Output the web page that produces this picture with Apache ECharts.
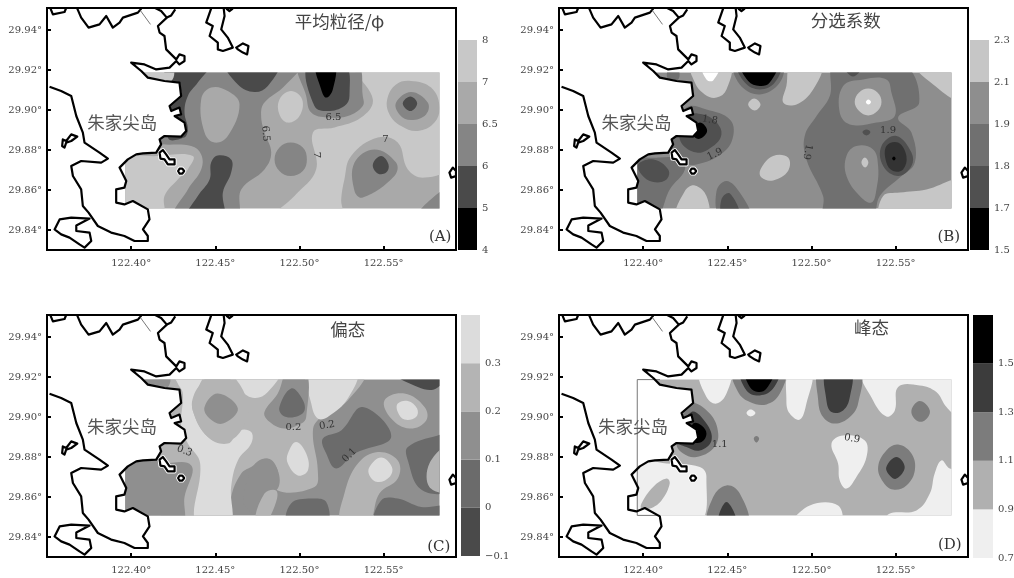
<!DOCTYPE html>
<html><head><meta charset="utf-8">
<script src="https://cdn.jsdelivr.net/npm/echarts@6/dist/echarts.min.js"></script>
<style>html,body{margin:0;padding:0;background:#fff;overflow:hidden}#c{width:1014px;height:578px;filter:blur(0.55px)}</style>
</head><body><div id="c"></div>
<script>
// all outlines are flat pairs: thousandths of a degree after 122E and after 29N
const xTicks=[122.40,122.45,122.50,122.55];
const yTicks=[29.84,29.86,29.88,29.90,29.92,29.94];
const fillExtent=[396.5,850.8,583.2,918.7];

const coastTopLeft=[352.1,950.7,353.5,947.8,360.4,949,361.4,951];
const coastNorth=[368,950.7,370.3,946.2,374.7,941.2,381.2,942.8,385.2,947,389.1,941.2,393.1,943.7,395.1,946.2,404,948.7,406,950.7];
const coastNorth2=[414.3,951,417.8,949.5,421.2,946.2,423.8,947.3,426.2,950.3];
const coastMain=[421.2,946.2,415.9,942,416.9,938.7,419.8,937,420.8,930.3,426.8,925.3,428.7,927.8,431.7,927,431.7,924.5,428.7,922.8,426.8,924.5,422.8,921.2,414.9,920.3,407.9,922.8,400,923.7,406,919.5,409.9,916.2,419.8,914.5,428.7,913.7,429.7,907,422.8,902,423.8,899.5,428.7,901.2,429.7,897.8,425.8,897,431.7,893.7,432.7,889.5,429.7,886.7,419.8,887,416.9,885.3,417.8,882.8,414.9,878.7,407,878.3,403,877.8,398,875.3,393.1,871.2,397.1,864.5,396,861.2,391.1,860.3,391.1,853.7,396,852.8,401,854.5,409.9,850.3,410.9,845.3,407,840.3,409.9,837,409.9,834.5,402,834.5,396,837,388.1,838.7,380.2,842,374.7,848.7,371.3,852,370.3,860.3,365.4,867,364.4,872,370.3,874.5,382.2,873.7,386.2,875.7,381.2,878.7,372.3,883.7,371.3,888.7,367.4,897,364.4,907,358.4,909.5,351.5,911.6];
const coastNE=[447.5,950.7,444.6,943.7,448.5,942,446.6,937,451.5,933.7,451.5,930.3,454.5,929.5,460.4,931.2,457.4,936.2,453.5,940.3,455.5,947,455,950.7];
const coastNE2=[456.5,950.7,458.4,949.5,460.4,950.7];
const islandE=[462.4,931.2,466.4,933.3,469.7,932,468.9,927.8,466.4,928.7,463.4,930.3];
const islandSW=[354.5,840.3,357.5,845.3,364.4,846.2,375.3,845.7,367.4,842.3,367.4,839.5,375.3,838.7,376.3,834.5,372.3,831.2,369.3,832.8,363.4,836.2,358.4,837.8];
const islandW=[359.4,885.3,361.4,884.5,364.4,887.8,368,886.7,364.4,884.5,361.4,883.7,360.4,881.2,359,882];
const islandChannel=[416.9,878.7,418.8,880,420.8,877.8,422.8,875.3,425.8,875.3,425.8,872.8,421.8,872.8,419.8,875.3,417.4,875.7];
const islandSmall=[427.9,869.5,428.8,870.7,430.4,870.7,431.5,869.5,430.4,868.2,428.8,868.2];
const islandFar=[589.1,868.7,591.1,871.2,593,869.5,593,867,590.1,866.2];
const thinLine=[405,950.3,411.5,942.8];
const landMask1=[392,925,400,923.7,406,919.5,409.9,916.2,419.8,914.5,428.7,913.7,429.7,907,422.8,902,423.8,899.5,428.7,901.2,429.7,897.8,425.8,897,431.7,893.7,432.7,889.5,429.7,886.7,419.8,887,416.9,885.3,417.8,882.8,414.9,878.7,407,878.3,403,877.8,398,875.3,393.1,871.2,392,871.2];
const landMask2=[391,853.7,396,852.8,401,854.5,409.9,850.3,391,850];

const colorsA=['#c8c8c8','#a9a9a9','#858585','#4a4a4a','#000000'];
const colorsB=['#c6c6c6','#8e8e8e','#707070','#505050','#000000','#ffffff','#333333'];
const colorsC=['#dcdcdc','#b4b4b4','#8f8f8f','#6b6b6b','#4a4a4a'];
const colorsD=['#efefef','#b0b0b0','#7c7c7c','#3c3c3c','#000000'];
const barTicksA=['4','5','6','6.5','7','8'];
const barTicksB=['1.5','1.7','1.8','1.9','2.1','2.3'];
const barTicksC=['−0.1','0','0.1','0.2','0.3',''];
const barTicksD=['0.7','0.9','1.1','1.3','1.5',''];

// [band index, outline...]
const bandsA=[
[0,532.7,923,588,923,588,872,574.3,866.2,564.4,870.3,558.4,883.7,546.5,886.2,530.7,877,526.7,865.3,524.8,855.3,524.8,846.5,485.2,846.5,497,857,509.9,870.3,508,888.7,520.8,891.2,536.6,896.2,543.6,905.3],
[2,570,846.5,583,858.7,588,858.7,588,846.5],
[1,552.1,905.3,557.4,912.8,566.3,914.5,578.2,911.2,583.2,902,580.2,893.7,570.3,889.5,560.4,892,553.5,897.8],
[2,557.4,903.7,566.3,909,576.2,903.7,575.2,897.8,566.3,895,559.4,897.8],
[3,561.4,903.3,565.9,906.7,569.9,903.3,565.9,899.5],
[2,500,923,533.7,923,537.6,907,537.6,902,528.7,897,516.8,896.2,507,898.7,504,907],
[3,505,923,526.7,923,529.7,907,526.7,902,516.8,899.5,508.9,902],
[4,509.9,923,520.8,923,519.8,910.3,515.9,906.2,512.9,910.3],
[0,488.1,905.3,495,909.5,501.6,905.3,500,897,493.1,893.7,488.1,897.8],
[2,427.7,923,500,923,491.1,912,479.2,903.7,477.2,897.8,479.2,888.7,483.2,878.7,479.2,870.3,465.4,860.3,462.4,846.5,425.8,846.5,433.7,860.3,441.6,870.3,441.6,877.8,435.7,882,415.9,883.7,421.8,890],
[1,447.5,911.2,457.4,909.5,464.4,902.8,457.4,887,449.5,883.7,443.6,888.7,441.6,905.3],
[2,485.2,875.3,488.1,881.2,494.7,883.7,502,881.2,504.4,875.3,502,869.5,494.7,867,488.1,869.5],
[3,421.8,923,446.6,923,439.6,913.7,433.7,907,431.7,898.7,433.7,890.3,431.3,886.2,421.8,886.2],
[3,456.5,923,487.1,923,481.2,912,473.3,909,463.4,912.8],
[3,451.5,877.3,459.4,875.3,459.4,868.7,454.5,858.7,454.5,846.5,433.3,846.5,439.6,857,446.6,865.3,447.5,873.7],
[0,394,874.5,415.9,877,436.6,877,433.7,870.3,427.7,865.3,419.8,857,418.8,846.5,394,846.5],
[0,408,923,423.8,923,423.8,914.5,408,914.5],
[2,532.7,873.7,544.6,880.3,557.4,873.7,556.4,867,537.6,856.2,532.7,859.5],
[3,543.6,872.8,548.5,877,552.9,872.8,551.5,868.7,546.5,868.3]
];
const bandsB=[
[2,513.9,923,554.4,923,564,903.7,551.5,896.2,559.4,888.7,561.4,873.7,552.5,866.2,540.6,857,535.6,846.5,507.9,846.5,506.9,857,497,875.3,496,887,503,897,510.9,907],
[1,518.8,912,530.7,915.3,544.5,915.3,547.5,908.7,549.5,897,538.6,893.7,522.8,892.8,516.8,898.7],
[1,520.8,877,526.7,882,536.6,880.3,539.6,872,538.6,860.3,535.6,853.7,528.7,857,520.8,867],
[0,525.7,904,528.3,908.7,533.7,910.7,539.2,908.7,541.6,904,539.2,899.5,533.7,897.3,528.3,899.5],
[5,532.3,904,533.8,905.3,535.4,904,533.8,902.7],
[0,529.7,873.7,531.7,876.2,533.8,873.7,531.9,871.2],
[3,530.3,889,532.7,890.3,535,889,532.7,887.3],
[3,541.6,882,550.5,887,559.4,878.7,559.4,872,551.5,867,542.6,872],
[6,544.5,882,551.5,883.7,556.4,877,554.4,870.3,548.5,869.5,544.5,873.7],
[4,547.9,875.7,549,876.8,550,875.7,549,874.8],
[0,462.4,902.8,465.9,905.8,469.7,902.8,466.3,899.8],
[0,428.7,923,451.5,923,449.5,910.3,443.6,906.2,436.6,907.8,430.7,913.7],
[5,434.7,923,445.5,923,441.6,914.8,437.6,915.3],
[0,488.1,923,506,923,501,910.3,491.1,902.8,483.2,903.7,485.1,912],
[0,469.7,870.3,477.2,877,486.1,876.2,486.1,869.5,477.2,864.8,470.3,866.2],
[0,419.8,846.5,424.8,859.5,430.7,862.3,437.6,857,438,846.5],
[0,541.6,846.5,542.6,857,552.5,858.7,568.3,860.3,588,864.5,588,846.5],
[0,561.4,923,588,923,588,905.3,572.3,912.8],
[2,416.8,887.8,425.7,901.2,437.6,900.3,451.5,895.3,453.5,887,447.5,878.7,431.7,872.8,421.8,874.5,416.8,882],
[3,421.8,885.3,425.7,897,435.6,897.8,443.6,893.7,446.5,887.8,441.6,882,431.7,878.7],
[4,429.3,889.8,433.7,893.7,438,889.8,434,885.7,430.1,886.7],
[2,394,873.7,409.9,876.2,421.8,875.3,424.8,870.3,415.8,860.3,407.9,846.5,394,846.5],
[3,397,872.8,406,875.3,414.9,870.3,413.9,865.3,406,864,399,867.8],
[2,454.5,923,482.2,923,481.2,913.7,469.3,907.8,457.4,912.8],
[3,456.4,923,481.2,923,478.2,913.7,469.3,910.3,460.4,913.7],
[4,458.4,923,479.2,923,475.2,913.7,469.3,912,462.4,914.5],
[2,443.6,859.5,449.5,864.5,457.4,858.7,463.4,846.5,446,846.5],
[3,446.5,855.3,451.5,858.2,457.4,846.5,447.5,846.5],
[2,414.9,920,420.8,920,420.8,915.3,414.9,915.3],
[3,518.8,923,530.7,923,524.7,916.7]
];
const bandsC=[
[1,421.8,923,537.6,923,528.7,908.3,512.9,900,508,893.3,510.9,873.3,508.9,865,487.1,863.3,487.1,873.3,481.2,879.2,471.3,875,465.4,871.7,459.4,860,458.4,846.5,420,846.5,420,876,411.9,886.7,415.9,890],
[2,392,878.3,415.9,876.7,435.7,875.8,431.7,860,429.7,846.5,392,846.5],
[1,524.8,846.5,526.7,861.7,534.7,876.7,546.5,882.5,558.4,878.3,558.4,869.2,547.5,861.7,540.6,846.5],
[1,550.5,908.3,562.4,911.7,574.3,905,575.3,898.3,565.4,894.2,554.5,899.2],
[3,564.4,885,582.2,890.8,588,890.8,588,863.7,572.3,863.7,564.4,878.3],
[1,577.2,876.7,588,885,588,863.3,577.2,865],
[0,424.8,923,445.6,923,437.6,911.7,436.6,903.3,445.6,890,457.4,886.7,464.4,893.3,471.3,892.5,471.3,886.7,463.4,878.3,459.4,865,458.4,846.5,438.6,846.5,441,876.7,433.7,886.7,429.7,895,430.7,911.7,427.7,916.7],
[0,457.4,923,488.1,923,481.2,912.5,473.3,909.5,465.4,913.3],
[0,505,923,533.7,923,528.7,909.2,516.8,900,510.9,899.2,507,906.7],
[0,493.1,881.7,498,887.5,504,881.7,505,873.3,499,870.8,493.1,876.7],
[0,541.6,875,548.5,879.7,554.9,875,553.5,870,546.5,867.5,541.6,870.8],
[0,558.4,906.7,564.4,908,569.9,904.2,569.3,900,562.4,898.7,558.4,902.5],
[1,437.6,910,446.6,923,457.4,923,469.3,906.7,465.4,893.3,455.5,887.5,445.6,890,436.6,903.3],
[2,443.6,905,451.5,911.7,463.4,904.2,454.5,896.7,446.6,899.2],
[2,479.2,902.5,487.1,911.7,493.1,923,504,923,504,900,501,896.7,491.1,894.2,481.2,898.3],
[3,488.1,905,495,914.2,501,910,503,903.3,497,900,490.1,900.8],
[2,466.4,858.3,472.3,875,480.2,879.2,487.1,873.3,487.1,864.2,479.2,861.7,472.3,852.5,468.3,855],
[1,473.3,846.5,479.2,861.7,486.1,863.3,486.1,857.5,479.2,846.5],
[3,513.9,889.2,524.8,893.3,537.6,905,554.5,890,532.7,881.7,521.8,874.2,515.9,881.7],
[3,493.1,846.5,495,856.7,507,859.2,515.9,857.5,515.9,846.5],
[3,545.5,846.5,548.5,858.3,558.4,859.2,572.3,855,588,855,588,846.5],
[4,554.5,923,588,923,581.2,914.2,570.3,915],
[2,406,923,421.8,923,421.8,915,411.9,915.8]
];
const bandsD=[
[0,433.7,923,451.5,923,449.5,911.7,443.6,906.7,437.6,910],
[0,487.1,923,500,923,497,906.7,493.1,898.7,487.1,901.7,485.1,908.3],
[0,530.7,923,588,923,588,900,580.2,905,574.2,912.5,564.3,915.8,551.5,915,549.5,903.3,544.5,900.3,536.6,908.3],
[0,511.9,886.7,518.8,890.8,531.7,888.3,532.7,880,526.7,870,520.8,864.2,516.8,868.3,515.8,876.7],
[0,573.2,871.7,577.2,878.3,582.2,874.2,588,874,588,846.5,544.5,846.5,546,851.5,562.4,853.3,570.3,861.7],
[0,489.1,846.5,499,855.8,515.8,855.8,516.8,846.5],
[0,392,878.3,413.9,876.7,433.7,875,437.6,870,432.7,846.5,392,846.5],
[1,399,856.7,405.9,865,413.9,869.2,415.8,866.7,410.9,858.3,404,854.2,399,854.2],
[0,461.4,902,463.8,903.8,466.7,902,463.8,900.3],
[2,419.8,886.7,423.8,901.7,427.7,907.5,439.6,901.7,444.6,891.7,441.6,884.2,431.7,880,423.8,881.7],
[3,419.8,888.3,428.7,902.5,437.6,896.7,440.6,888.3,433.7,883.3,425.7,885],
[4,429.7,896.7,434.7,895.8,437.6,891.7,434.7,887.5,427.7,888.3],
[2,453.9,923,483.6,923,481.2,911.7,473.3,906.3,463.4,907.5,456.4,912.5],
[3,458.4,923,480.2,923,477.2,914.2,469.3,910.8,461.4,913.3],
[4,461,923,477.2,923,473.3,914.2,468.3,912.5,463.4,915],
[2,505,923,528.3,923,527.7,906.7,522.8,900,513.9,896.7,506.9,900,504,908.3],
[3,508.9,923,523.2,923,522.8,910,518.8,903.3,511.9,902.5,508.9,908.3],
[2,559.4,903.3,564.3,908,570.3,903.3,567.3,898.3,562.4,898.3],
[2,539.6,875,544.5,883.3,551.5,886.2,559.4,881.7,561.4,873.3,556.4,865.8,548.5,863.7,542.6,867.5],
[3,544.5,875,550.5,880,555.4,875,550.5,869.2,546.5,870.8],
[2,439,846.5,441.6,860,449.5,865.8,457.4,861.7,461.8,846.5],
[3,444.6,846.5,449.5,857.5,455.4,846.5],
[2,465.7,889.2,467.3,890.5,468.9,889.2,467.3,887.2]
];
// [text, lon, lat, rotation degrees]
const contourLabelsA=[['6.5',479.8,888.2,-85],['6.5',520.2,896.2,0],['7',551.1,885.3,0],['7',510,877.5,-90]];
const contourLabelsB=[['1.8',439.6,895,-10],['1.9',442.6,877.8,25],['1.9',497.6,879,-100],['1.9',545.5,890,0]];
const contourLabelsC=[['0.3',431.7,883,-20],['0.2',496.4,894.7,0],['0.2',516.4,895.8,10],['0.1',529.7,880.8,45]];
const contourLabelsD=[['1.1',445.5,886.3,0],['0.9',524.1,889.2,-10]];

const panels=[
 {title:'平均粒径/φ',tPos:[523.8,944.2],tag:'(A)',tagPos:[583.6,836.2],isle:[394.7,893.7],bands:bandsA,colors:colorsA,base:1,labels:contourLabelsA,order:[4,3,2,1,0],
  ticks:barTicksA,grid:{left:47,top:8,width:409,height:242},bar:{left:458,top:40,width:19,height:210}},
 {title:'分选系数',tPos:[520.4,945],tag:'(B)',tagPos:[581.6,836.2],isle:[396,893.7],bands:bandsB,colors:colorsB,base:1,labels:contourLabelsB,order:[4,3,2,1,0],
  ticks:barTicksB,grid:{left:559,top:8,width:409,height:242},bar:{left:970,top:40,width:19,height:210}},
 {title:'偏态',tPos:[528.7,943.7],tag:'(C)',tagPos:[582.8,835],isle:[394.5,895.5],bands:bandsC,colors:colorsC,base:2,labels:contourLabelsC,order:[4,3,2,1,0],
  ticks:barTicksC,grid:{left:47,top:315,width:409,height:242},bar:{left:461,top:315,width:19,height:241}},
 {title:'峰态',tPos:[535.6,945],tag:'(D)',tagPos:[582.2,835.8],isle:[394,895.5],bands:bandsD,colors:colorsD,base:1,labels:contourLabelsD,frame:true,order:[0,1,2,3,4],
  ticks:barTicksD,grid:{left:559,top:315,width:409,height:242},bar:{left:973,top:315,width:20,height:243}}
];

const geo=a=>{const o=[];for(let i=0;i<a.length;i+=2)o.push([122+a[i]/1000,29+a[i+1]/1000]);return o;};
const axisFont='"DejaVu Serif"';

const grids=[],xAxes=[],yAxes=[],series=[];
panels.forEach((p,pi)=>{
  const idx=grids.length;
  grids.push(Object.assign({show:true,borderWidth:2,borderColor:'#000',backgroundColor:'#fff',containLabel:false,outerBoundsMode:'none'},p.grid));
  xAxes.push({type:'value',gridIndex:idx,min:122.35,max:122.593,splitLine:{show:false},axisLine:{show:false},
    axisTick:{inside:true,length:4,lineStyle:{width:2,color:'#000'},customValues:xTicks},
    axisLabel:{customValues:xTicks,formatter:v=>v.toFixed(2)+'°',margin:8,fontFamily:axisFont,fontSize:10,color:'#444'}});
  yAxes.push({type:'value',gridIndex:idx,min:29.83,max:29.951,splitLine:{show:false},axisLine:{show:false},
    axisTick:{inside:true,length:4,lineStyle:{width:2,color:'#000'},customValues:yTicks},
    axisLabel:{customValues:yTicks,formatter:v=>v.toFixed(2)+'°',margin:5,fontFamily:axisFont,fontSize:10,color:'#444'}});
  const fillRect=api=>{
    const a=api.coord([122+fillExtent[0]/1000,29+fillExtent[3]/1000]);
    const b=api.coord([122+fillExtent[2]/1000,29+fillExtent[1]/1000]);
    return {x:a[0],y:a[1],width:b[0]-a[0],height:b[1]-a[1]};
  };
  // base fill
  series.push({type:'custom',xAxisIndex:idx,yAxisIndex:idx,silent:true,z:2,
    data:[[122+fillExtent[0]/1000,29+fillExtent[1]/1000]],encode:{x:0,y:1},
    renderItem:(params,api)=>{const r=fillRect(api);return {type:'rect',shape:r,style:{fill:p.colors[p.base]}};}});
  // contour bands
  const outlines=p.bands.map(b=>({c:p.colors[b[0]],pts:geo(b.slice(1))}));
  series.push({type:'custom',xAxisIndex:idx,yAxisIndex:idx,silent:true,z:3,
    data:outlines.map(o=>o.pts[0]),encode:{x:0,y:1},
    renderItem:(params,api)=>{
      const o=outlines[params.dataIndex];
      return {type:'polygon',shape:{points:o.pts.map(q=>api.coord(q)),smooth:0.4},
        clipPath:{type:'rect',shape:fillRect(api)},style:{fill:o.c}};
    }});
  // land masks, coast lines, islands
  const shapes=[];
  [landMask1,landMask2].forEach(m=>shapes.push({t:'polygon',pts:geo(m),fill:'#fff',stroke:'#fff',w:1}));
  if(p.frame) shapes.push({t:'polyline',pts:geo([410,918.7,396.5,918.7,396.5,850.8,410,850.8]),stroke:'#777',w:1});
  [islandChannel,islandSmall].forEach(m=>shapes.push({t:'polygon',pts:geo(m),fill:'#fff',stroke:'#fff',w:4}));
  [coastTopLeft,coastNorth,coastNorth2,coastMain,coastNE,coastNE2].forEach(m=>shapes.push({t:'polyline',pts:geo(m),stroke:'#000',w:2.2}));
  [islandE,islandSW,islandW,islandChannel,islandSmall,islandFar].forEach(m=>shapes.push({t:'polygon',pts:geo(m),fill:'#fff',stroke:'#000',w:2.2}));
  shapes.push({t:'polyline',pts:geo(thinLine),stroke:'#555',w:0.8});
  series.push({type:'custom',xAxisIndex:idx,yAxisIndex:idx,silent:true,z:4,clip:true,
    data:shapes.map(s=>s.pts[0]),encode:{x:0,y:1},
    renderItem:(params,api)=>{
      const s=shapes[params.dataIndex];
      return {type:s.t,shape:{points:s.pts.map(q=>api.coord(q))},
        style:{fill:s.fill||null,stroke:s.stroke,lineWidth:s.w,lineJoin:'round'}};
    }});
  // texts
  const texts=[
    [p.title,p.tPos[0],p.tPos[1],0,'17.5px "Noto Sans CJK SC"','#444'],
    ['朱家尖岛',p.isle[0],p.isle[1],0,'17.5px "Noto Sans CJK SC"','#555'],
    [p.tag,p.tagPos[0],p.tagPos[1],0,'15px "DejaVu Serif"','#333']
  ].concat(p.labels.map(l=>[l[0],l[1],l[2],l[3],'10px "DejaVu Serif"','#333']));
  series.push({type:'custom',xAxisIndex:idx,yAxisIndex:idx,silent:true,z:5,
    data:texts.map(t=>[122+t[1]/1000,29+t[2]/1000]),encode:{x:0,y:1},
    renderItem:(params,api)=>{
      const t=texts[params.dataIndex],c=api.coord([122+t[1]/1000,29+t[2]/1000]);
      return {type:'text',x:c[0],y:c[1],rotation:t[3]*Math.PI/180,
        style:{text:t[0],font:t[4],fill:t[5],align:'center',verticalAlign:'middle'}};
    }});
  // colour bar
  const bi=grids.length;
  grids.push(Object.assign({containLabel:false,outerBoundsMode:'none'},p.bar));
  xAxes.push({type:'category',gridIndex:bi,data:[''],show:false});
  yAxes.push({type:'value',gridIndex:bi,position:'right',min:0,max:5,interval:1,splitLine:{show:false},
    axisLine:{show:false},axisTick:{show:false},
    axisLabel:{formatter:v=>p.ticks[v],margin:5,fontFamily:axisFont,fontSize:10,color:'#444'}});
  p.order.forEach(k=>series.push({type:'bar',xAxisIndex:bi,yAxisIndex:bi,stack:'bar'+pi,barWidth:'100%',silent:true,
    data:[1],itemStyle:{color:p.colors[k]}}));
});
const chart=echarts.init(document.getElementById('c'),null,{renderer:'canvas'});
chart.setOption({animation:false,backgroundColor:'#fff',grid:grids,xAxis:xAxes,yAxis:yAxes,series:series});
</script></body></html>
